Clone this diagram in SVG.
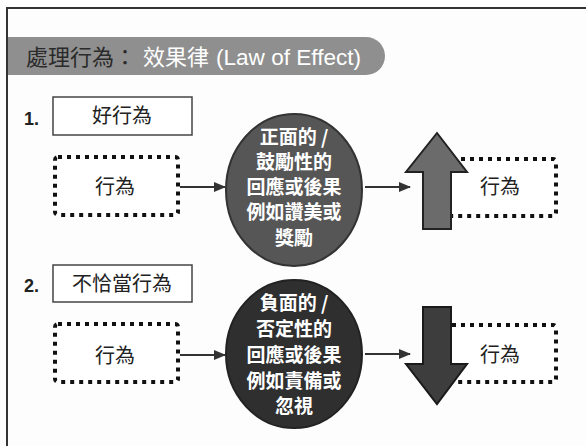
<svg xmlns="http://www.w3.org/2000/svg" width="586" height="446" viewBox="0 0 586 446">
<style>
.lbl{font-family:"Noto Sans CJK TC","Noto Sans CJK SC",sans-serif;font-size:20px;fill:#222;text-anchor:middle}
.num{font-family:"Liberation Sans",Arial,sans-serif;font-size:18px;font-weight:bold;fill:#222}
.ctx{font-family:"Noto Sans CJK TC","Noto Sans CJK SC",sans-serif;font-size:19px;font-weight:bold;fill:#fff;text-anchor:middle}
.ttl{font-family:"Noto Sans CJK TC","Noto Sans CJK SC",sans-serif;font-size:22px}
.box{fill:#fff;stroke:#444;stroke-width:1.5}
.dot{fill:#fff;stroke:#111;stroke-width:4;stroke-dasharray:4 5}
.conn{stroke:#333;stroke-width:2;fill:none;marker-end:url(#ah)}
</style>
<defs>
<marker id="ah" markerWidth="12" markerHeight="10" refX="11" refY="5" orient="auto" markerUnits="userSpaceOnUse">
<path d="M0,0 L12,5 L0,10 Z" fill="#333"/>
</marker>
</defs>
<rect width="586" height="446" fill="#fdfdfd"/>
<g id="frame">
<line x1="7" y1="8" x2="586" y2="8" stroke="#333" stroke-width="2"/>
<line x1="7" y1="7" x2="7" y2="446" stroke="#333" stroke-width="2"/>
</g>
<g id="title">
<path d="M8,37 H366 A19,19 0 0 1 366,75 H8 Z" fill="#8f8f8f"/>
<text class="ttl" x="26" y="65" fill="#2a2a2a">處理行為：</text>
<text class="ttl" x="143" y="65" fill="#fff" textLength="66" lengthAdjust="spacingAndGlyphs">效果律</text>
<text x="216" y="65" fill="#fff" font-family="Liberation Sans,Arial,sans-serif" font-size="22" textLength="145" lengthAdjust="spacingAndGlyphs">(Law of Effect)</text>
</g>
<g id="n1-label">
<text class="num" x="24" y="125">1.</text>
<rect class="box" x="53" y="97" width="139" height="38"/>
<text class="lbl" x="122" y="123">好行為</text>
</g>
<g id="n1-behavior">
<rect class="dot" x="55" y="157" width="123" height="58" rx="3"/>
<text class="lbl" x="115" y="194">行為</text>
</g>
<g id="n1-circle">
<ellipse cx="294" cy="190" rx="68" ry="76" fill="#565656" stroke="#333" stroke-width="2"/>
<text class="ctx" x="294" y="144">正面的 /</text>
<text class="ctx" x="294" y="169">鼓勵性的</text>
<text class="ctx" x="294" y="194">回應或後果</text>
<text class="ctx" x="294" y="219">例如讚美或</text>
<text class="ctx" x="294" y="245">獎勵</text>
</g>
<g id="n1-result">
<rect class="dot" x="440" y="159" width="116" height="57" rx="3"/>
<path d="M437,133 L467,172 L451,172 L451,229 L423,229 L423,172 L406,172 Z" fill="#6b6b6b" stroke="#222" stroke-width="2" stroke-linejoin="miter"/>
<text class="lbl" x="500" y="194">行為</text>
</g>
<g id="n2-label">
<text class="num" x="24" y="292">2.</text>
<rect class="box" x="53" y="265" width="139" height="37"/>
<text class="lbl" x="122" y="291">不恰當行為</text>
</g>
<g id="n2-behavior">
<rect class="dot" x="55" y="324" width="123" height="58" rx="3"/>
<text class="lbl" x="115" y="363">行為</text>
</g>
<g id="n2-circle">
<ellipse cx="294" cy="354" rx="68" ry="74" fill="#2f2f2f" stroke="#222" stroke-width="2"/>
<text class="ctx" x="294" y="310">負面的 /</text>
<text class="ctx" x="294" y="336">否定性的</text>
<text class="ctx" x="294" y="362">回應或後果</text>
<text class="ctx" x="294" y="388">例如責備或</text>
<text class="ctx" x="294" y="413">忽視</text>
</g>
<g id="n2-result">
<rect class="dot" x="440" y="325" width="116" height="57" rx="3"/>
<path d="M423,307 L451,307 L451,364 L467,364 L437,404 L406,364 L423,364 Z" fill="#3d3d3d" stroke="#1a1a1a" stroke-width="2"/>
<text class="lbl" x="500" y="362">行為</text>
</g>
<g id="connectors">
<line class="conn" x1="180" y1="187" x2="225" y2="187"/>
<line class="conn" x1="365" y1="187" x2="410" y2="187"/>
<line class="conn" x1="180" y1="355" x2="225" y2="355"/>
<line class="conn" x1="365" y1="354" x2="410" y2="354"/>
</g>
</svg>
